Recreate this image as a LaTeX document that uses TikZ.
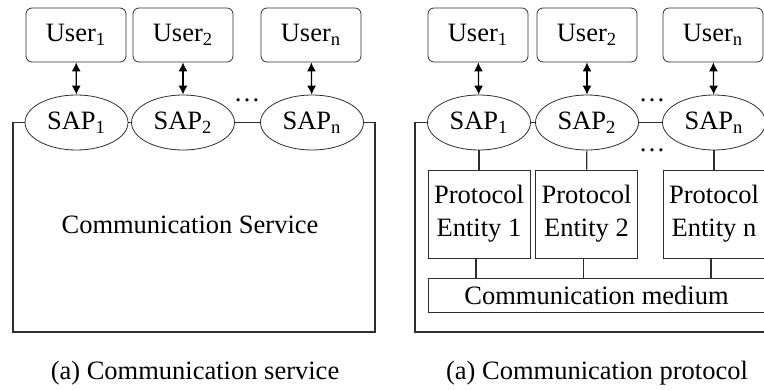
\documentclass[tikz,border=0pt]{standalone}
\usepackage{fontspec}
\setmainfont{Liberation Serif}
\usepackage{tikz}
\usepackage{xcolor}
\usetikzlibrary{arrows.meta, positioning, calc, shapes.geometric}
\definecolor{linegray}{HTML}{2E2E2E}
\definecolor{darktext}{HTML}{000000}

\begin{document}
\begin{tikzpicture}[
            x=0.5pt, y=-0.5pt,
            every node/.style={text=darktext, font=\fontsize{13.25}{16.5}\selectfont},
            userbox/.style={draw=linegray, rounded corners=3pt, minimum width=50pt, minimum height=27pt, inner sep=0pt},
            sap/.style={ellipse, draw=linegray, minimum width=51.5pt, minimum height=27.5pt, inner sep=0pt},
            entity/.style={draw=linegray, minimum width=51pt, minimum height=44pt, inner sep=0pt, align=center},
            medium/.style={draw=linegray, minimum width=168.5pt, minimum height=17pt, inner sep=0pt},
            line/.style={draw=linegray, line width=0.6pt},
            arr/.style={{Latex[length=4.5pt, width=4.5pt]}-{Latex[length=4.5pt, width=4.5pt]}, line width=0.6pt, black}
        ]
            \clip (0,0) rectangle (764,390);
            % left: communication service
            \node[userbox] (lu1) at (76,35) {User\textsubscript{1}};
            \node[userbox] (lu2) at (183,35) {User\textsubscript{2}};
            \node[userbox] (lun) at (311,35) {User\textsubscript{n}};
            \node[sap] (ls1) at (76.5,122.5) {SAP\textsubscript{1}};
            \node[sap] (ls2) at (183,122.5) {SAP\textsubscript{2}};
            \node[sap] (lsn) at (312,122.5) {SAP\textsubscript{n}};
            \node (ldots) at (247,100) {\dots};
            \draw[arr] (lu1) -- (ls1);
            \draw[arr] (lu2) -- (ls2);
            \draw[arr] (lun) -- (lsn);
            \draw[line] (ls1) -- (ls2);
            \draw[line] (ls2) -- (lsn);
            \coordinate (lbl) at (13,332);
            \coordinate (lbr) at (375,332);
            \draw[line] (ls1.west) -| (lbl) -- (lbr) |- (lsn.east);
            \node (service) at (190,225) {Communication Service};
            \node (lcap) at (195,373) {(a) Communication service};

            % right: communication protocol
            \node[userbox] (ru1) at (478,35) {User\textsubscript{1}};
            \node[userbox] (ru2) at (587,35) {User\textsubscript{2}};
            \node[userbox] (run) at (713,35) {User\textsubscript{n}};
            \node[sap] (rs1) at (479,122.5) {SAP\textsubscript{1}};
            \node[sap] (rs2) at (587,122.5) {SAP\textsubscript{2}};
            \node[sap] (rsn) at (714,122.5) {SAP\textsubscript{n}};
            \node (rdots) at (652,100) {\dots};
            \node (rdots2) at (652,150) {\dots};
            \draw[arr] (ru1) -- (rs1);
            \draw[arr] (ru2) -- (rs2);
            \draw[arr] (run) -- (rsn);
            \draw[line] (rs1) -- (rs2);
            \draw[line] (rs2) -- (rsn);
            \node[entity] (e1) at (479,214) {Protocol\\Entity 1};
            \node[entity] (e2) at (586.5,214) {Protocol\\Entity 2};
            \node[entity] (en) at (714,214) {Protocol\\Entity n};
            \node[medium] (med) at (596.5,295) {Communication medium};
            \draw[line] (rs1) -- (e1);
            \draw[line] (rs2) -- (e2);
            \draw[line] (rsn) -- (en);
            \draw[line] ([xshift=-1.5pt]e1.south) -- ([xshift=-1.5pt]e1.south |- med.north);
            \draw[line] ([xshift=-1.5pt]e2.south) -- ([xshift=-1.5pt]e2.south |- med.north);
            \draw[line] ([xshift=-1.5pt]en.south) -- ([xshift=-1.5pt]en.south |- med.north);
            \coordinate (rbl) at (415,332);
            \coordinate (rbr) at (777,332);
            \draw[line] (rs1.west) -| (rbl) -- (rbr) |- (rsn.east);
            \node (rcap) at (597,373) {(a) Communication protocol};
        \end{tikzpicture}
\end{document}
